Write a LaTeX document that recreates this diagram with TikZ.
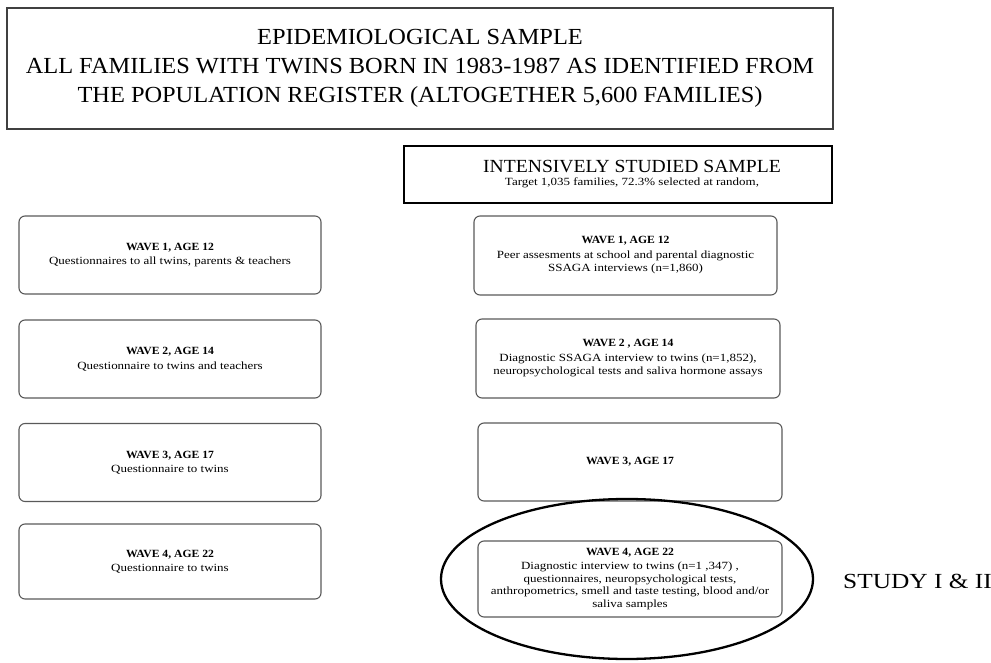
\documentclass[tikz,border=0pt]{standalone}
\usepackage{fontspec}
\setmainfont[FakeStretch=1.06]{Liberation Serif}
\newfontfamily\bodyfont[FakeStretch=1.18]{Liberation Serif}
\usetikzlibrary{shapes.geometric}
\begin{document}
\begin{tikzpicture}[x=1pt,y=-1pt,
  wavebox/.style={draw=black!65, line width=1.1pt, rounded corners=6pt,
    minimum width=302pt, minimum height=78pt, align=center, inner sep=2pt,
    font=\fontsize{11}{13.5}\selectfont},
  headbox/.style={draw=black!75, line width=1.1pt, align=center,
    font=\fontsize{23}{29}\selectfont},
  samplebox/.style={draw=black, line width=2.3pt, align=center}]
\useasboundingbox (0,0) rectangle (991,663);

% epidemiological sample
\node[headbox, minimum width=826pt, minimum height=121pt] (epi) at (420,68.5)
  {EPIDEMIOLOGICAL SAMPLE\\ALL FAMILIES WITH TWINS BORN IN 1983-1987 AS IDENTIFIED FROM\\THE POPULATION REGISTER (ALTOGETHER 5,600 FAMILIES)};

% intensively studied sample
\node[samplebox, minimum width=428pt, minimum height=57pt] (ism) at (618,174.5) {};
\node[align=center, inner sep=0pt] (ismtext) at (632,174)
  {{\fontsize{18.5}{20}\selectfont INTENSIVELY STUDIED SAMPLE}\\[1pt]
   {\bodyfont\fontsize{11}{13}\selectfont Target 1,035 families, 72.3\% selected at random,}};

% epidemiological waves
\node[wavebox] (l1) at (170,255) {\textbf{WAVE 1, AGE 12}\\[1pt]\bodyfont Questionnaires to all twins, parents \& teachers};
\node[wavebox] (l2) at (170,359) {\textbf{WAVE 2, AGE 14}\\[1pt]\bodyfont Questionnaire to twins and teachers};
\node[wavebox] (l3) at (170,462.5) {\textbf{WAVE 3, AGE 17}\\[1pt]\bodyfont Questionnaire to twins};
\node[wavebox, minimum height=75pt] (l4) at (170,561.5) {\textbf{WAVE 4, AGE 22}\\[1pt]\bodyfont Questionnaire to twins};

% intensive waves
\node[wavebox, minimum width=303pt, minimum height=79pt] (r1) at (625.5,255.5)
  {\textbf{WAVE 1, AGE 12}\\[1pt]\bodyfont Peer assesments at school and parental diagnostic\\\bodyfont SSAGA interviews (n=1,860)};
\node[wavebox, minimum width=304pt, minimum height=79pt] (r2) at (628,358.5)
  {\textbf{WAVE 2 , AGE 14}\\[1pt]\bodyfont Diagnostic SSAGA interview to twins (n=1,852),\\\bodyfont neuropsychological tests and saliva hormone assays};
\node[wavebox, minimum width=304pt] (r3) at (630,462) {\textbf{WAVE 3, AGE 17}};
\node[wavebox, minimum width=304pt, minimum height=76pt, font=\fontsize{11}{12.5}\selectfont] (r4) at (630,579)
  {\textbf{WAVE 4, AGE 22}\\[2pt]\bodyfont Diagnostic interview to twins (n=1 ,347) ,\\\bodyfont questionnaires, neuropsychological tests,\\\bodyfont anthropometrics, smell and taste testing, blood and/or\\\bodyfont saliva samples};

% studies I and II
\draw[line width=2.3pt] ([xshift=-3pt]r4.center) ellipse [x radius=186pt, y radius=80pt];
\node[anchor=west, inner sep=0pt, font=\bodyfont\fontsize{21.5}{24}\selectfont] (study) at (843,581) {STUDY I \& II};
\end{tikzpicture}
\end{document}
